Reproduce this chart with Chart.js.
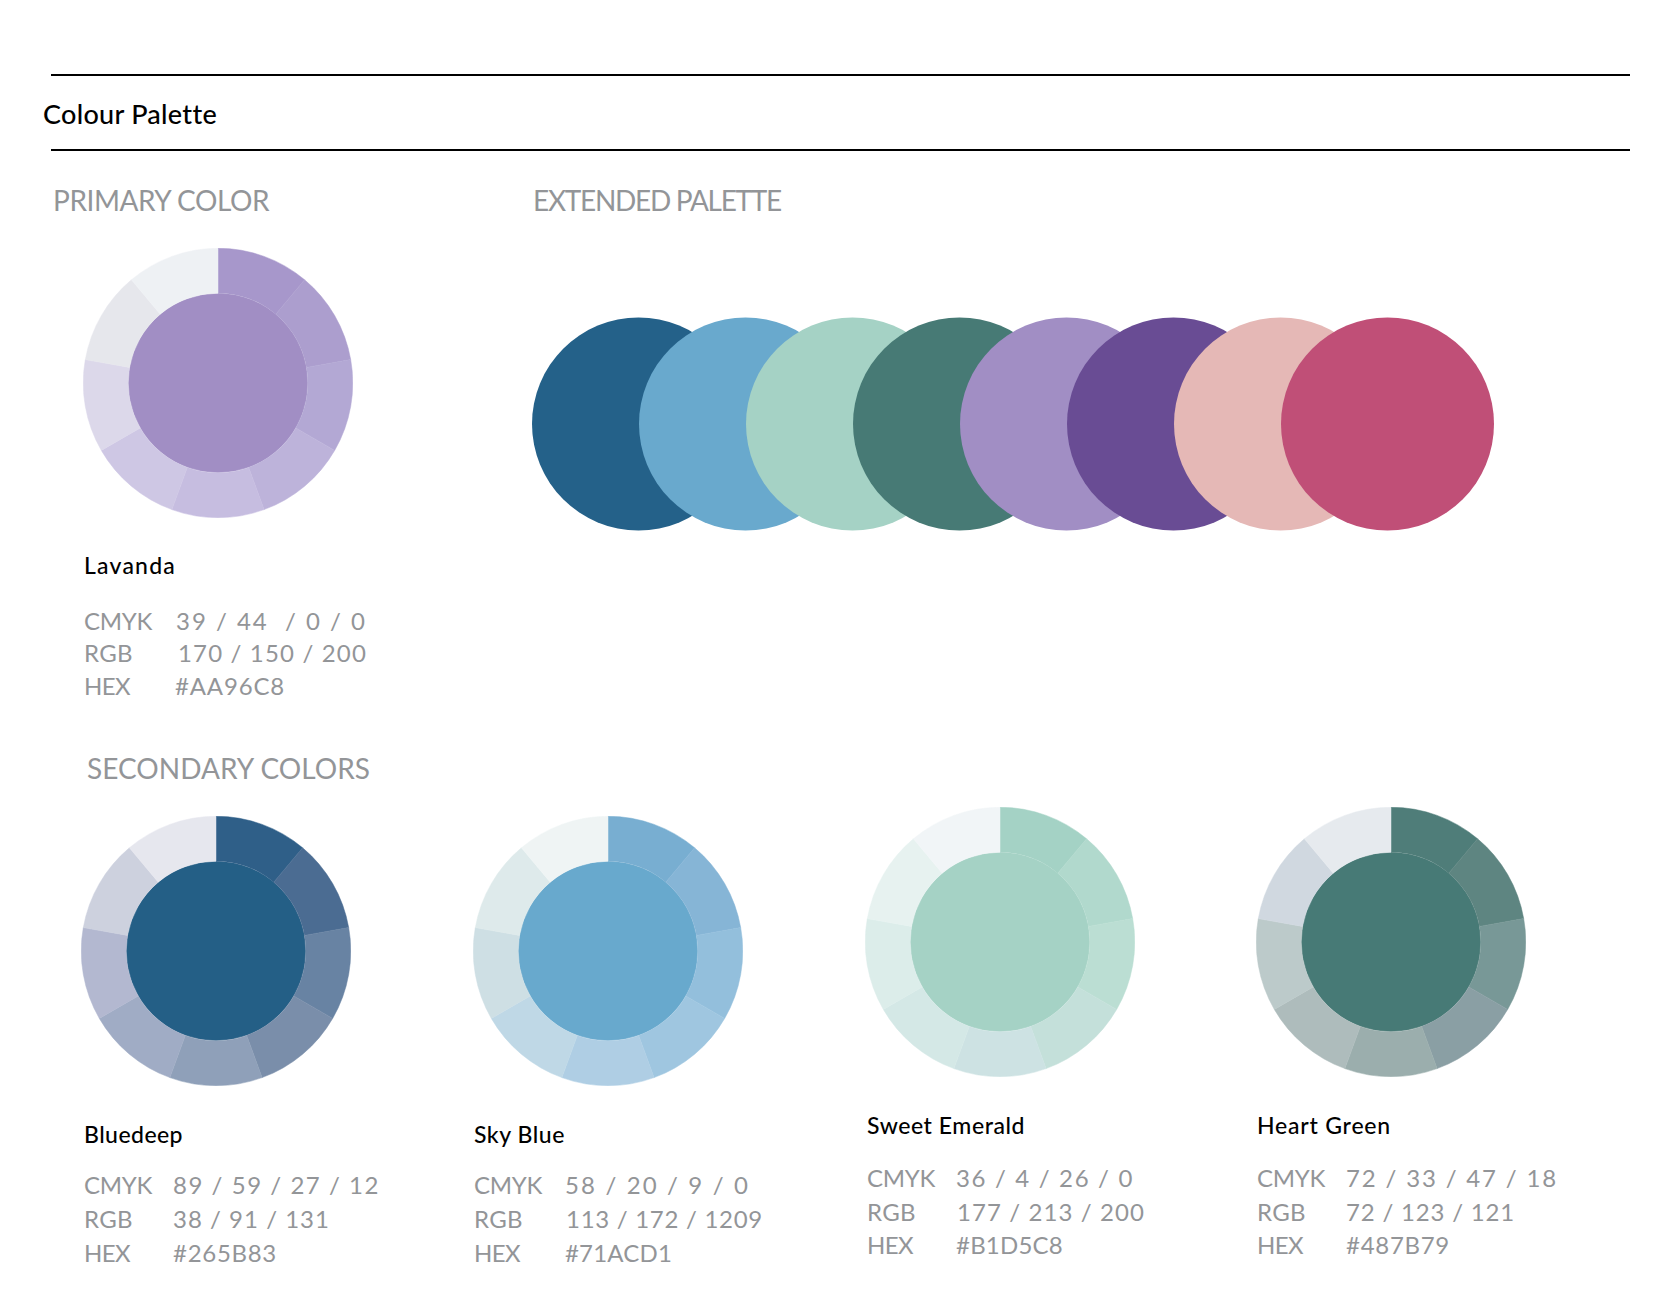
<!DOCTYPE html>
<html>
<head>
<meta charset="utf-8">
<title>Colour Palette</title>
<script src="https://cdn.jsdelivr.net/npm/chart.js@4.4.1/dist/chart.umd.min.js"></script>
<style>
    html, body {
        margin: 0;
        padding: 0;
        background: #ffffff;
    }
    body {
        position: relative;
        width: 1667px;
        height: 1313px;
        overflow: hidden;
        font-family: Lato, "Open Sans", sans-serif;
    }
    .rule {
        position: absolute;
        left: 51px;
        width: 1579px;
        height: 2px;
        background: #000000;
    }
    .txt {
        position: absolute;
        line-height: 1;
        white-space: pre;
    }
    .title { font-size: 27px; color: #000000; font-weight: 500; }
    .heading { font-size: 28px; color: #939598; }
    .name { font-size: 23px; color: #000000; font-weight: 500; }
    .info { font-size: 24px; color: #939598; }
    .chart-box {
        position: absolute;
    }
</style>
</head>
<body>
<div class="rule" style="top:74px"></div>
<div class="rule" style="top:149px"></div>
<div id="page"></div>

<script>
// Swatch data
const swatchNames = ['Lavanda', 'Bluedeep', 'Sky Blue', 'Sweet Emerald', 'Heart Green'];
const cmykValues = ['39 / 44  / 0 / 0', '89 / 59 / 27 / 12', '58 / 20 / 9 / 0', '36 / 4 / 26 / 0', '72 / 33 / 47 / 18'];
const rgbValues = ['170 / 150 / 200', '38 / 91 / 131', '113 / 172 / 1209', '177 / 213 / 200', '72 / 123 / 121'];
const hexValues = ['#AA96C8', '#265B83', '#71ACD1', '#B1D5C8', '#487B79'];

// Each wheel: 9 equal slices around a solid centre
const segmentValues = [1, 1, 1, 1, 1, 1, 1, 1, 1];
const centerColors = ['#A18EC4', '#245F86', '#68A9CD', '#A5D2C5', '#477A76'];
const ringColors = [
    ['#A797CB', '#AC9ECE', '#B3A8D4', '#BDB3DA', '#C6BDE0', '#CEC7E4', '#DCD8EA', '#E6E7EC', '#EEF1F4'],
    ['#2F5F88', '#4B6C92', '#6883A3', '#7A8EAA', '#8FA0B9', '#A0ACC5', '#B3B8D0', '#CDD1DE', '#E6E7EE'],
    ['#78AED1', '#86B5D6', '#93BFDC', '#9FC6E0', '#AFCEE4', '#BFD8E6', '#CEDFE4', '#DEEAEB', '#EFF4F4'],
    ['#A4D2C5', '#B1D9CD', '#BBDED3', '#C4E0DA', '#CDE2E3', '#D4E8E6', '#DCEDEA', '#E7F2F0', '#F1F5F7'],
    ['#4F7D79', '#5E8581', '#789897', '#8A9FA4', '#9BAEAD', '#AEBCBC', '#BCCACA', '#D0D8E0', '#E6EAEE']
];

// Extended palette
const extendedX = [1, 2, 3, 4, 5, 6, 7, 8];
const extendedColors = ['#246189', '#69A9CD', '#A5D2C5', '#477A75', '#A18EC4', '#694C94', '#E5B8B6', '#C04F77'];

// Where things sit on the page
const wheelLayout = [
    { cx: 218, cy: 383 },
    { cx: 216, cy: 951 },
    { cx: 608, cy: 951 },
    { cx: 1000, cy: 942 },
    { cx: 1391, cy: 942 }
];
// widths are the measured text widths in the original, used to fit the fallback font
const textLayout = [
    { x: 84, nameTop: 558, nameW: 92, rows: [613, 645, 678], valX: [176, 178, 175], valW: [191, 189, 110] },
    { x: 84, nameTop: 1127, nameW: 99, rows: [1177, 1211, 1245], valX: [173, 173, 173], valW: [207, 157, 104] },
    { x: 474, nameTop: 1127, nameW: 91, rows: [1177, 1211, 1245], valX: [565, 566, 565], valW: [185, 197, 107] },
    { x: 867, nameTop: 1118, nameW: 158, rows: [1170, 1204, 1237], valX: [956, 957, 956], valW: [178, 188, 107] },
    { x: 1257, nameTop: 1118, nameW: 134, rows: [1170, 1204, 1237], valX: [1346, 1346, 1346], valW: [212, 169, 104] }
];
const labelWidths = [68, 49, 46];

const page = document.getElementById('page');

// cap-top offset for Lato with line-height 1
function capTop(y, size) {
    return y - 0.17 * size;
}

function addText(text, cls, x, y, size, width) {
    const el = document.createElement('div');
    el.className = 'txt ' + cls;
    el.textContent = text;
    el.style.left = x + 'px';
    el.style.top = capTop(y, size) + 'px';
    page.appendChild(el);
    if (width) {
        // stretch / squeeze the letter spacing so the line spans the same width
        const natural = el.getBoundingClientRect().width;
        el.style.letterSpacing = ((width - natural) / text.length) + 'px';
    }
    return el;
}

addText('Colour Palette', 'title', 43, 105, 27, 173);
addText('PRIMARY COLOR', 'heading', 53, 191, 28, 216);
addText('EXTENDED PALETTE', 'heading', 533, 191, 28, 248);
addText('SECONDARY COLORS', 'heading', 87, 759, 28, 283);

swatchNames.forEach((name, i) => {
    const t = textLayout[i];
    addText(name, 'name', t.x, t.nameTop, 23, t.nameW);
    const labels = ['CMYK', 'RGB', 'HEX'];
    const vals = [cmykValues[i], rgbValues[i], hexValues[i]];
    labels.forEach((lab, r) => {
        addText(lab, 'info', t.x, t.rows[r], 24, labelWidths[r]);
        addText(vals[r], 'info', t.valX[r], t.rows[r], 24, t.valW[r]);
    });
});

function makeBox(left, top, w, h) {
    const box = document.createElement('div');
    box.className = 'chart-box';
    box.style.left = left + 'px';
    box.style.top = top + 'px';
    box.style.width = w + 'px';
    box.style.height = h + 'px';
    const canvas = document.createElement('canvas');
    box.appendChild(canvas);
    page.appendChild(box);
    return canvas;
}

const R = 135;

swatchNames.forEach((name, i) => {
    const pos = wheelLayout[i];
    const canvas = makeBox(pos.cx - R, pos.cy - R, R * 2, R * 2);
    new Chart(canvas.getContext('2d'), {
        type: 'pie',
        data: {
            labels: segmentValues.map((v, k) => name + ' ' + (k + 1)),
            datasets: [
                {
                    data: segmentValues,
                    backgroundColor: ringColors[i],
                    borderColor: ringColors[i],
                    borderWidth: 0.5,
                    weight: 1
                },
                {
                    data: [1],
                    backgroundColor: [centerColors[i]],
                    borderWidth: 0,
                    weight: 2
                }
            ]
        },
        options: {
            responsive: true,
            maintainAspectRatio: false,
            animation: false,
            events: [],
            hoverOffset: 0,
            layout: { padding: 0 },
            plugins: {
                legend: { display: false },
                tooltip: { enabled: false }
            }
        }
    });
});

// Extended palette as overlapping points
const extCanvas = makeBox(477.5, 294, 1070, 260);
new Chart(extCanvas.getContext('2d'), {
    type: 'scatter',
    data: {
        datasets: [{
            data: extendedX.map(x => ({ x: x, y: 0 })),
            pointRadius: 106.5,
            pointBackgroundColor: extendedColors,
            pointBorderWidth: 0,
            pointHoverRadius: 106.5,
            clip: false
        }]
    },
    options: {
        responsive: true,
        maintainAspectRatio: false,
        animation: false,
        events: [],
        layout: { padding: 0, autoPadding: false },
        plugins: {
            legend: { display: false },
            tooltip: { enabled: false }
        },
        scales: {
            x: { type: 'linear', min: -0.5, max: 9.5, display: false },
            y: { type: 'linear', min: -1, max: 1, display: false }
        }
    }
});
</script>
</body>
</html>
